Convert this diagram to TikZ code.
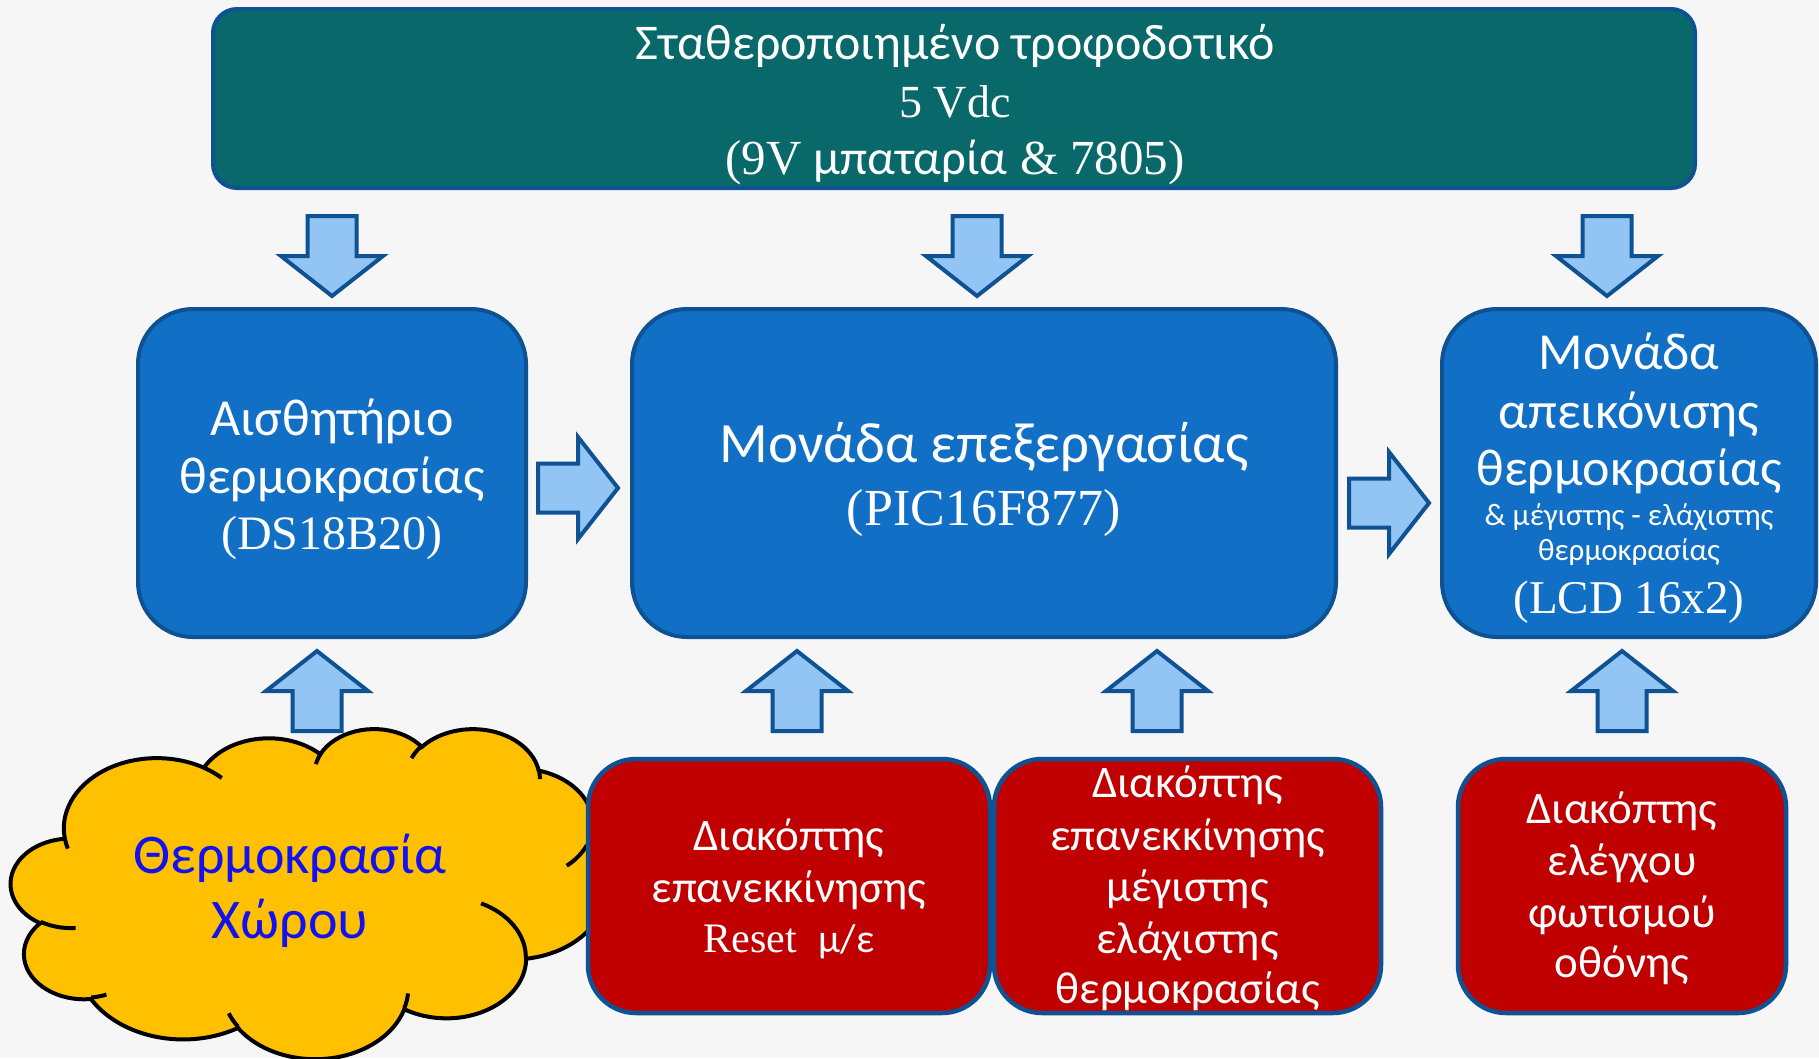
\documentclass[tikz,border=0pt]{standalone}
\usepackage{fontspec}
\setmainfont{Carlito}
\newfontfamily\tnr{Liberation Serif}
\definecolor{bgc}{HTML}{F6F6F6}
\definecolor{pwrfill}{HTML}{08686A}
\definecolor{edgeblue}{HTML}{0E5294}
\definecolor{boxblue}{HTML}{1170C6}
\definecolor{arrfill}{HTML}{93C5F4}
\definecolor{redfill}{HTML}{C00000}
\definecolor{cloudfill}{HTML}{FFC000}
\definecolor{cloudtext}{HTML}{1212F0}
\newcommand\fs[1]{\fontsize{#1}{#1}\selectfont}
% convert DrawingML visual angles to parametric angles
\newcommand\mkarc[5]{%
  \pgfmathsetmacro\tmpS{(#4)+mod(atan2((#2)*sin(#4),(#3)*cos(#4))-(#4)+1260,360)-180}%
  \pgfmathsetmacro\tmpE{(#4)+(#5)+mod(atan2((#2)*sin((#4)+(#5)),(#3)*cos((#4)+(#5)))-(#4)-(#5)+1260,360)-180}%
  \expandafter\xdef\csname cS#1\endcsname{\tmpS}%
  \expandafter\xdef\csname cE#1\endcsname{\tmpE}%
}
\tikzset{
  boxbase/.style={draw=edgeblue, line width=4pt, inner sep=0pt},
  pwr/.style={boxbase, fill=pwrfill, rounded corners=24pt},
  bluebox/.style={boxbase, fill=boxblue, rounded corners=55pt},
  redbox/.style={boxbase, line width=4.5pt, fill=redfill, rounded corners=48pt},
  txt/.style={anchor=base, text=white, inner sep=0pt},
  ctxt/.style={anchor=base, text=cloudtext, inner sep=0pt},
  arr/.style={draw=edgeblue, fill=arrfill, line width=4pt, line join=miter},
  cloudline/.style={draw=black, line width=4pt},
  blockarrow/.pic={\draw[arr] (-40,-24.5) -- (0,-24.5) -- (0,-51) -- (40,0) -- (0,51) -- (0,24.5) -- (-40,24.5) -- cycle;}
}
\begin{document}
\begin{tikzpicture}[x=1pt, y=-1pt]
\useasboundingbox (0,0) rectangle (1819,1058);
\clip (0,0) rectangle (1819,1058);
\fill[bgc] (0,0) rectangle (1819,1058);

% ---- cloud (PowerPoint cloud geometry) ----
\mkarc{A}{67.53}{91.90}{-190.48748}{123.78053}
\mkarc{B}{53.33}{72.67}{-144.10238}{89.94523}
\mkarc{C}{43.65}{59.45}{-145.80792}{99.72302}
\mkarc{D}{48.57}{65.95}{-130.98607}{117.24173}
\mkarc{E}{53.33}{72.73}{-78.70888}{109.02692}
\mkarc{F}{67.75}{92.20}{-46.26725}{130.26900}
\mkarc{G}{57.85}{78.67}{0.62502}{114.03333}
\mkarc{H}{67.52}{92.15}{22.45160}{115.17255}
\mkarc{I}{77.20}{105.43}{66.24263}{75.71102}
\mkarc{J}{43.60}{59.18}{-274.94208}{146.73557}
\mkarc{K}{43.45}{59.45}{-246.82850}{152.51885}
\mkarc{a}{43.45}{59.45}{86.742}{26.4295}
\mkarc{b}{43.60}{59.18}{73.6105}{11.4475}
\mkarc{c}{67.52}{92.15}{137.6242}{14.0811}
\mkarc{d}{67.52}{92.15}{6.4533}{15.9984}
\mkarc{e}{57.85}{78.67}{-70.2924}{70.9174}
\mkarc{f}{53.33}{72.73}{30.3180}{27.7515}
\mkarc{g}{48.57}{65.95}{-13.7443}{14.8589}
\mkarc{h}{48.57}{65.95}{-149.1815}{18.1954}
\mkarc{i}{43.65}{59.45}{-163.4943}{17.6864}
\mkarc{j}{67.53}{91.90}{-66.7070}{12.3194}
\mkarc{k}{67.53}{91.90}{157.6544}{11.8582}
\begin{scope}[shift={(11,728)}, x=1.37731pt, y=-0.76389pt]
\draw[cloudline, fill=cloudfill] (39.00,143.70)
  arc[start angle=\cSA, end angle=\cEA, x radius=67.53, y radius=91.90]
  arc[start angle=\cSB, end angle=\cEB, x radius=53.33, y radius=72.67]
  arc[start angle=\cSC, end angle=\cEC, x radius=43.65, y radius=59.45]
  arc[start angle=\cSD, end angle=\cED, x radius=48.57, y radius=65.95]
  arc[start angle=\cSE, end angle=\cEE, x radius=53.33, y radius=72.73]
  arc[start angle=\cSF, end angle=\cEF, x radius=67.75, y radius=92.20]
  arc[start angle=\cSG, end angle=\cEG, x radius=57.85, y radius=78.67]
  arc[start angle=\cSH, end angle=\cEH, x radius=67.52, y radius=92.15]
  arc[start angle=\cSI, end angle=\cEI, x radius=77.20, y radius=105.43]
  arc[start angle=\cSJ, end angle=\cEJ, x radius=43.60, y radius=59.18]
  arc[start angle=\cSK, end angle=\cEK, x radius=43.45, y radius=59.45]
  -- cycle;
\draw[cloudline]
  (46.93,261.77) arc[start angle=\cSa, end angle=\cEa, x radius=43.45, y radius=59.45]
  (69.28,348.99) arc[start angle=\cSb, end angle=\cEb, x radius=43.60, y radius=59.18]
  (164.78,390.90) arc[start angle=\cSc, end angle=\cEc, x radius=67.52, y radius=92.15]
  (288.27,347.51) arc[start angle=\cSd, end angle=\cEd, x radius=67.52, y radius=92.15]
  (341.29,229.54) arc[start angle=\cSe, end angle=\cEe, x radius=57.85, y radius=78.67]
  (417.98,153.54) arc[start angle=\cSf, end angle=\cEf, x radius=53.33, y radius=72.73]
  (383.24,54.26) arc[start angle=\cSg, end angle=\cEg, x radius=48.57, y radius=65.95]
  (290.78,39.52) arc[start angle=\cSh, end angle=\cEh, x radius=48.57, y radius=65.95]
  (221.41,47.20) arc[start angle=\cSi, end angle=\cEi, x radius=43.65, y radius=59.45]
  (140.00,51.92) arc[start angle=\cSj, end angle=\cEj, x radius=67.53, y radius=91.90]
  (41.27,157.89) arc[start angle=\cSk, end angle=\cEk, x radius=67.53, y radius=91.90];
\end{scope}
\node[ctxt] (c1) at (290,873) {\fs{56}Θερμοκρασία};
\node[ctxt] (c2) at (290,938) {\fs{56}Χώρου};

% ---- boxes ----
\node[pwr, minimum width=1482pt, minimum height=179pt] (power) at (954,98.5) {};
\node[bluebox, minimum width=388pt, minimum height=328pt] (sensor) at (332,473) {};
\node[bluebox, minimum width=704pt, minimum height=328pt] (cpu) at (984,473) {};
\node[bluebox, minimum width=374pt, minimum height=328pt] (lcd) at (1629,473) {};
\node[redbox, minimum width=402pt, minimum height=254pt] (reset) at (789,886) {};
\node[redbox, minimum width=387pt, minimum height=254pt] (maxmin) at (1187.5,886) {};
\node[redbox, minimum width=328pt, minimum height=254pt] (light) at (1622,886) {};

% ---- block arrows ----
\pic[rotate=-90] at (332,256) {blockarrow};
\pic[rotate=-90] at (977,256) {blockarrow};
\pic[rotate=-90] at (1607,256) {blockarrow};
\pic at (578,488) {blockarrow};
\pic at (1389,503) {blockarrow};
\pic[rotate=90] at (317,691) {blockarrow};
\pic[rotate=90] at (797,691) {blockarrow};
\pic[rotate=90] at (1157,691) {blockarrow};
\pic[rotate=90] at (1622,691) {blockarrow};

% ---- texts ----
\node[txt] (pw1) at (955,59) {\fs{50}Σταθεροποιημένο τροφοδοτικό};
\node[txt] (pw2) at (955,117) {\tnr\fs{46}5 Vdc};
\node[txt] (pw3) at (955,174) {\tnr\fs{49}(9V {\rmfamily μπαταρία} \& 7805)};

\node[txt] (s1) at (332,435) {\fs{52}Αισθητήριο};
\node[txt] (s2) at (332,493) {\fs{52}θερμοκρασίας};
\node[txt] (s3) at (332,549) {\tnr\fs{48}(DS18B20)};

\node[txt] (p1) at (984,462) {\fs{57}Μονάδα επεξεργασίας};
\node[txt] (p2) at (984,525) {\tnr\fs{52}(PIC16F877)};

\node[txt] (d1) at (1629,369) {\fs{52}Μονάδα};
\node[txt] (d2) at (1629,428) {\fs{52}απεικόνισης};
\node[txt] (d3) at (1629,485) {\fs{52}θερμοκρασίας};
\node[txt] (d4) at (1629,525) {\fs{31}\& μέγιστης - ελάχιστης};
\node[txt] (d5) at (1629,560) {\fs{31}θερμοκρασίας};
\node[txt] (d6) at (1629,613) {\tnr\fs{47}(LCD 16x2)};

\node[txt] (r1) at (789,850) {\fs{45}Διακόπτης};
\node[txt] (r2) at (789,902) {\fs{45}επανεκκίνησης};
\node[txt] (r3) at (789,952) {{\tnr\fs{42}Reset}\hspace{22pt}{\fs{40}μ/ε}};

\node[txt] (m1) at (1187.5,797) {\fs{45}Διακόπτης};
\node[txt] (m2) at (1187.5,850) {\fs{45}επανεκκίνησης};
\node[txt] (m3) at (1187.5,901) {\fs{45}μέγιστης};
\node[txt] (m4) at (1187.5,953) {\fs{45}ελάχιστης};
\node[txt] (m5) at (1187.5,1003) {\fs{45}θερμοκρασίας};

\node[txt] (l1) at (1622,823) {\fs{45}Διακόπτης};
\node[txt] (l2) at (1622,875) {\fs{45}ελέγχου};
\node[txt] (l3) at (1622,927) {\fs{45}φωτισμού};
\node[txt] (l4) at (1622,977) {\fs{45}οθόνης};
\end{tikzpicture}
\end{document}
